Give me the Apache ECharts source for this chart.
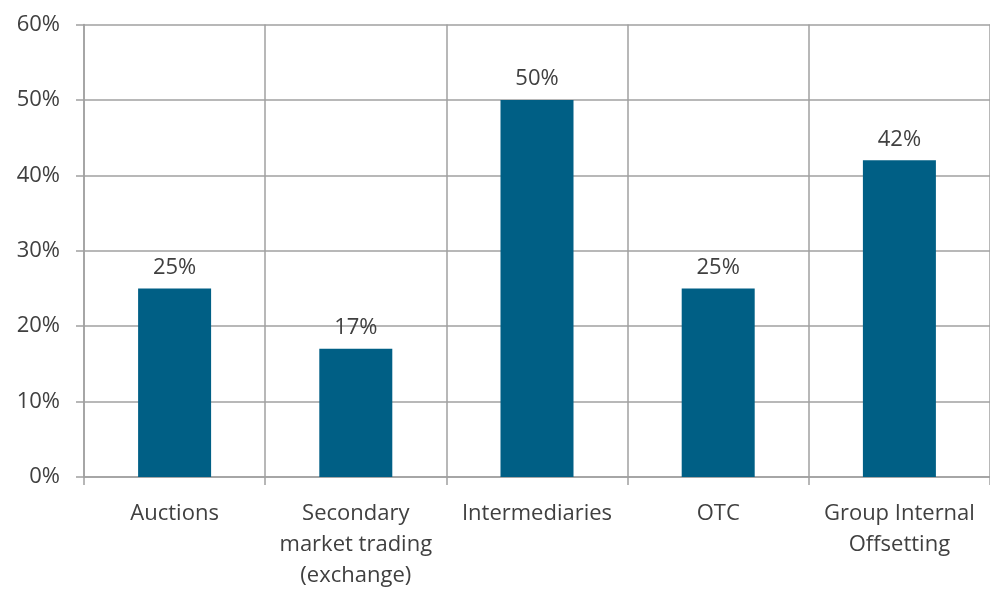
<!DOCTYPE html>
<html><head><meta charset="utf-8">
<script src="https://cdn.jsdelivr.net/npm/echarts@6/dist/echarts.min.js"></script>
<style>html,body{margin:0;padding:0;background:#fff;overflow:hidden}#c{width:990px;height:591px}</style>
</head><body><div id="c"></div>
<script>
const categories = ["Auctions", "Secondary\nmarket trading\n(exchange)", "Intermediaries", "OTC", "Group Internal\nOffsetting"];
const values = [25, 17, 50, 25, 42];
const yTicks = [0, 10, 20, 30, 40, 50, 60];

const chart = echarts.init(document.getElementById('c'), null, {renderer: 'canvas'});
const grey = '#a0a0a0';
const textColor = '#404040';
const font = 'Open Sans';
chart.setOption({
  animation: false,
  grid: {left: 84, width: 909, top: 24.5, height: 460, containLabel: false},
  xAxis: {
    type: 'category',
    data: categories,
    boundaryGap: true,
    axisLine: {show: true, lineStyle: {color: grey, width: 1.5}},
    axisTick: {show: true, length: 8, alignWithLabel: false, lineStyle: {color: grey, width: 1.5}},
    splitLine: {show: true, lineStyle: {color: grey, width: 1.5}},
    axisLabel: {color: textColor, fontFamily: font, fontSize: 22, lineHeight: 31, margin: 21, interval: 0}
  },
  yAxis: {
    type: 'value',
    min: yTicks[0], max: yTicks[yTicks.length - 1], interval: 10,
    axisLine: {show: true, lineStyle: {color: grey, width: 1.5}},
    axisTick: {show: true, length: 8, lineStyle: {color: grey, width: 1.5}},
    splitLine: {show: true, lineStyle: {color: grey, width: 1.5}},
    axisLabel: {color: textColor, fontFamily: font, fontSize: 22, margin: 24, formatter: '{value}%'}
  },
  series: [{
    type: 'bar',
    data: values,
    barWidth: 73,
    itemStyle: {color: '#005F85'},
    label: {show: true, position: 'top', distance: 10, color: textColor, fontFamily: font, fontSize: 22, formatter: '{c}%'}
  }]
});
</script></body></html>
